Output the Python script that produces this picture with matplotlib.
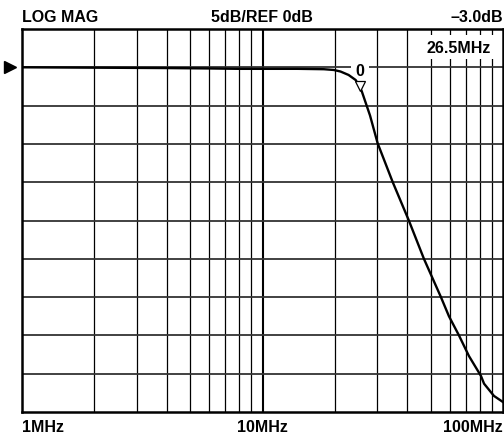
import matplotlib
matplotlib.use('Agg')
import matplotlib.pyplot as plt
import numpy as np

plt.rcParams['font.family'] = ['Liberation Sans', 'DejaVu Sans']
plt.rcParams['font.weight'] = 'bold'

# frequency response
freq_mhz = [1, 2, 4, 6, 8, 10, 14, 18, 19.8, 21.1, 22.8, 24.4, 25.1, 25.85,
            28, 30.1, 34.8, 40.6, 46.9, 55.2, 59.6, 65.6, 72.2, 81.0, 83.4,
            91.7, 100]
gain_db = [0.0, -0.05, -0.1, -0.15, -0.2, -0.2, -0.2, -0.25, -0.35, -0.55,
           -1.0, -1.66, -2.3, -3.1, -6.3, -9.9, -15.0, -20.0, -25.0, -30.0,
           -32.5, -35.0, -37.7, -40.3, -41.3, -42.9, -43.7]

marker_f = 25.4
marker_db = -2.45
x_minor = [2, 3, 4, 5, 6, 7, 8, 9, 20, 30, 40, 50, 60, 70, 80, 90]
y_lines = [0, -5, -10, -15, -20, -25, -30, -35, -40]

fig = plt.figure(figsize=(5.04, 4.39), dpi=100)
ax = fig.add_axes([22 / 504, 1 - 413 / 439, 481 / 504, 383 / 439])
ax.set_xscale('log')
ax.set_xlim(1, 100)
ax.set_ylim(-45, 5)

for f in x_minor:
    ax.axvline(f, color='black', lw=0.9, zorder=1)
ax.axvline(10, color='black', lw=1.5, zorder=1)
for y in y_lines:
    ax.axhline(y, color='#333333', lw=1.3, zorder=1)

ax.plot(freq_mhz, gain_db, color='black', lw=1.7, zorder=3)
ax.plot([marker_f], [marker_db], marker='v', mfc='white', mec='black',
        ms=6.5, mew=0.9, zorder=4)

box = dict(boxstyle='square,pad=0.3', fc='white', ec='none')
ax.text(25.4, -0.4, '0', ha='center', va='center', fontsize=11.5,
        fontweight='bold', bbox=box, zorder=2)
ax.text(65.6, 2.65, '26.5MHz', ha='center', va='center', fontsize=11.5,
        fontweight='bold', bbox=box, zorder=2)

# reference level pointer
ax.plot([-12 / 481], [0], marker='>', color='black', ms=8,
        transform=ax.get_yaxis_transform(), clip_on=False)

for s in ax.spines.values():
    s.set_linewidth(1.8)
    s.set_zorder(5)
ax.set_xticks([])
ax.set_yticks([])
ax.minorticks_off()

ty = 1 - 18 / 439
fig.text(22 / 504, ty, 'LOG MAG', ha='left', va='center', fontsize=11.5, fontweight='bold')
fig.text(262 / 504, ty, '5dB/REF 0dB', ha='center', va='center', fontsize=11.5, fontweight='bold')
fig.text(503 / 504, ty, '\u20133.0dB', ha='right', va='center', fontsize=11.5, fontweight='bold')
by = 1 - 427.5 / 439
fig.text(22 / 504, by, '1MHz', ha='left', va='center', fontsize=11.5, fontweight='bold')
fig.text(262 / 504, by, '10MHz', ha='center', va='center', fontsize=11.5, fontweight='bold')
fig.text(503 / 504, by, '100MHz', ha='right', va='center', fontsize=11.5, fontweight='bold')

fig.savefig('out.png', dpi=100)
